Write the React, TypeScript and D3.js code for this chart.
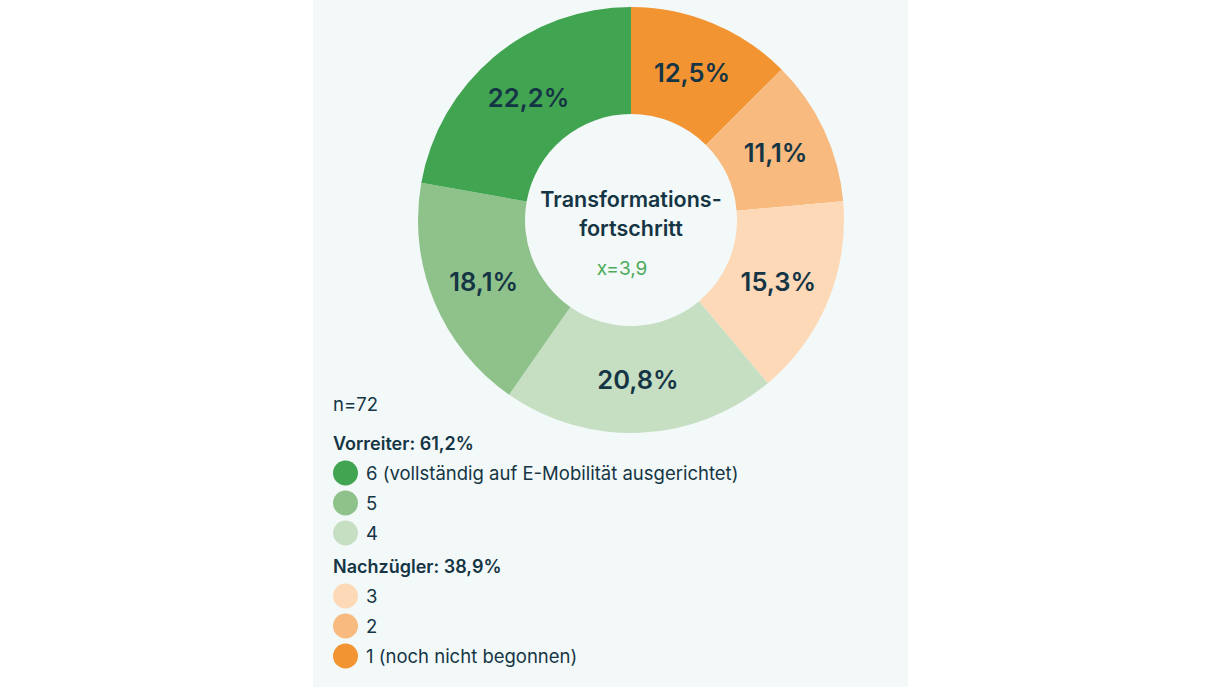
import React, { useEffect, useRef } from "react";
import * as d3 from "d3";

interface Slice {
  level: string;
  value: number;
  color: string;
}

const levels = ["1", "2", "3", "4", "5", "6"];
const shares = [12.5, 11.1, 15.3, 20.8, 18.1, 22.2];
const colors = ["#f39433", "#f8ba7e", "#fdd9b8", "#c6dfc3", "#8fc28b", "#40a451"];

const groupVorreiter = { title: "Vorreiter: 61,2%", levels: ["6", "5", "4"] };
const groupNachzuegler = { title: "Nachzügler: 38,9%", levels: ["3", "2", "1"] };
const legendLabels: { [key: string]: string } = {
  "6": "6 (vollständig auf E-Mobilität ausgerichtet)",
  "5": "5",
  "4": "4",
  "3": "3",
  "2": "2",
  "1": "1 (noch nicht begonnen)",
};

const sampleSize = "n=72";
const centerTitle = ["Transformations-", "fortschritt"];
const meanLabel = "x=3,9";

const textColor = "#153545";
const fontFamily = "Inter, 'Noto Sans', sans-serif";

const App: React.FC = () => {
  const svgRef = useRef<SVGSVGElement>(null);

  useEffect(() => {
    document.body.style.margin = "0";
    const svg = d3.select(svgRef.current);
    svg.selectAll("*").remove();

    const width = 1221;
    const height = 687;

    svg.attr("width", width).attr("height", height);

    // light panel behind the chart
    svg
      .append("rect")
      .attr("x", 313)
      .attr("y", 0)
      .attr("width", 595)
      .attr("height", height)
      .attr("fill", "#f2f9f8");

    const data: Slice[] = levels.map((level, i) => ({
      level,
      value: shares[i],
      color: colors[i],
    }));

    const cx = 631;
    const cy = 220;
    const outer = 213;
    const inner = 106;

    const pie = d3
      .pie<Slice>()
      .value((d) => d.value)
      .sort(null);

    const arc = d3
      .arc<d3.PieArcDatum<Slice>>()
      .innerRadius(inner)
      .outerRadius(outer);

    const g = svg.append("g").attr("transform", `translate(${cx},${cy})`);

    const arcs = pie(data);

    g.selectAll("path")
      .data(arcs)
      .enter()
      .append("path")
      .attr("d", arc)
      .attr("fill", (d) => d.data.color);

    g.selectAll("text.pct")
      .data(arcs)
      .enter()
      .append("text")
      .attr("class", "pct")
      .attr("transform", (d) => `translate(${arc.centroid(d)})`)
      .attr("text-anchor", "middle")
      .attr("dominant-baseline", "central")
      .attr("font-family", fontFamily)
      .attr("font-size", 25.5)
      .attr("font-weight", 600)
      .attr("fill", textColor)
      .text((d) => d.data.value.toFixed(1).replace(".", ",") + "%");

    // centre text
    centerTitle.forEach((line, i) => {
      g.append("text")
        .attr("x", 0)
        .attr("y", -21 + i * 29)
        .attr("text-anchor", "middle")
        .attr("dominant-baseline", "central")
        .attr("font-family", fontFamily)
        .attr("font-size", 21.5)
        .attr("font-weight", 600)
        .attr("fill", textColor)
        .text(line);
    });

    g.append("text")
      .attr("x", -9)
      .attr("y", 48)
      .attr("text-anchor", "middle")
      .attr("dominant-baseline", "central")
      .attr("font-family", fontFamily)
      .attr("font-size", 19)
      .attr("fill", "#4caa58")
      .text(meanLabel);

    // legend
    const lx = 333;
    svg
      .append("text")
      .attr("x", lx)
      .attr("y", 404)
      .attr("dominant-baseline", "central")
      .attr("font-family", fontFamily)
      .attr("font-size", 18.5)
      .attr("fill", textColor)
      .text(sampleSize);

    const drawGroup = (
      group: { title: string; levels: string[] },
      top: number
    ) => {
      svg
        .append("text")
        .attr("x", lx)
        .attr("y", top)
        .attr("dominant-baseline", "central")
        .attr("font-family", fontFamily)
        .attr("font-size", 18)
        .attr("font-weight", 600)
        .attr("fill", textColor)
        .text(group.title);

      group.levels.forEach((lvl, i) => {
        const item = data.find((d) => d.level === lvl)!;
        const y = top + 30 + i * 30;
        svg
          .append("circle")
          .attr("cx", lx + 12.5)
          .attr("cy", y)
          .attr("r", 12.5)
          .attr("fill", item.color);
        svg
          .append("text")
          .attr("x", lx + 33)
          .attr("y", y)
          .attr("dominant-baseline", "central")
          .attr("font-family", fontFamily)
          .attr("font-size", 18.5)
          .attr("fill", textColor)
          .text(legendLabels[lvl]);
      });
    };

    drawGroup(groupVorreiter, 443);
    drawGroup(groupNachzuegler, 566);
  }, []);

  return <svg ref={svgRef} style={{ display: "block" }}></svg>;
};

export default App;
